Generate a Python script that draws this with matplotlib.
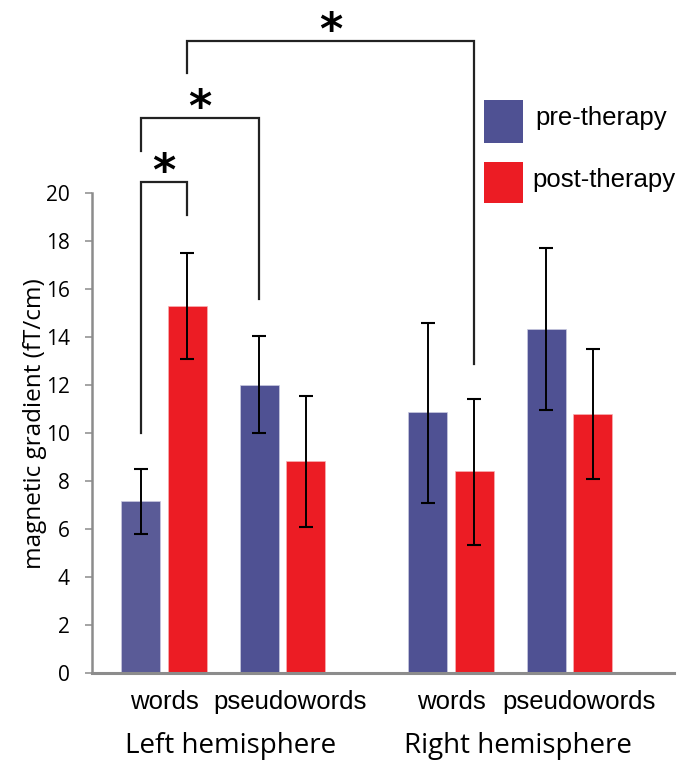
import matplotlib
matplotlib.use('Agg')
import matplotlib.pyplot as plt
from matplotlib.patches import Rectangle
import numpy as np

# values
hemispheres = ['Left hemisphere', 'Right hemisphere']
categories = ['words', 'pseudowords', 'words', 'pseudowords']
series = ['pre-therapy', 'post-therapy']

pre_means = [7.15, 12.0, 10.87, 14.33]
pre_low = [5.8, 10.0, 7.1, 10.96]
pre_high = [8.52, 14.05, 14.6, 17.7]

post_means = [15.3, 8.83, 8.4, 10.8]
post_low = [13.1, 6.1, 5.35, 8.08]
post_high = [17.5, 11.55, 11.4, 13.5]

# significance brackets: (left bar, right bar) as (series, category)
bracket_left = [(0, 0), (0, 0), (1, 0)]
bracket_right = [(1, 0), (0, 1), (1, 2)]
bracket_left_foot = [10.0, 21.75, 25.0]
bracket_right_foot = [19.08, 15.58, 12.875]
bracket_top = [20.46, 23.125, 26.33]

pre_color = '#4f5193'
first_color = '#5a5b97'
post_color = '#ec1c24'
axis_grey = '#8c8c8c'

fig = plt.figure(figsize=(6.81, 7.65), dpi=100)
ax = fig.add_axes([92 / 681, 92 / 765, 582 / 681, 480 / 765])

# group layout
centers = np.array([0.0, 3.04, 7.36, 10.40])
offset = 0.6
width = 1.0
x_pos = [centers - offset, centers + offset]

pre_colors = [first_color] + [pre_color] * 3
ax.bar(x_pos[0], pre_means, width, color=pre_colors, edgecolor='#c9cae0', linewidth=0.5)
ax.bar(x_pos[1], post_means, width, color=post_color, edgecolor='#f7b0b3', linewidth=0.5)

for xs, means, low, high in [(x_pos[0], pre_means, pre_low, pre_high),
                             (x_pos[1], post_means, post_low, post_high)]:
    m = np.array(means)
    err = [m - np.array(low), np.array(high) - m]
    ax.errorbar(xs, m, yerr=err, fmt='none', ecolor='black',
                elinewidth=1.4, capsize=4.8, capthick=1.5)

# significance brackets
for (ls, lc), (rs, rc), lf, rf, top in zip(bracket_left, bracket_right,
                                           bracket_left_foot, bracket_right_foot, bracket_top):
    x0 = x_pos[ls][lc]
    x1 = x_pos[rs][rc]
    ax.plot([x0, x0, x1, x1], [lf, top, top, rf], color='#222222', lw=1.6,
            clip_on=False, solid_joinstyle='miter')
    ax.text((x0 + x1) / 2, top - 0.5, '*', ha='center', va='bottom',
            fontsize=32, fontweight='bold', family='DejaVu Sans', clip_on=False)

ax.set_xlim(-1.846, 13.08)
ax.set_ylim(0, 20)
ax.set_yticks(np.arange(0, 21, 2))
ax.set_yticklabels([str(v) for v in range(0, 21, 2)], family='Open Sans', fontsize=15)
ax.tick_params(axis='y', length=5, width=1.1, color=axis_grey, pad=11)

label_shift = [0, 0.2, 0, 0.24]
ax.set_xticks(centers + np.array(label_shift))
ax.set_xticklabels(categories, family='Liberation Sans', fontsize=18.5)
ax.tick_params(axis='x', length=0, pad=12)

ax.set_ylabel('magnetic gradient (fT/cm)', family='Open Sans', fontsize=17.5)
ax.yaxis.set_label_coords(-0.077, 0.52)

for side in ['top', 'right']:
    ax.spines[side].set_visible(False)
ax.spines['left'].set_color(axis_grey)
ax.spines['left'].set_linewidth(1.8)
ax.spines['bottom'].set_color(axis_grey)
ax.spines['bottom'].set_linewidth(2.2)

# hemisphere labels
for i, name in enumerate(hemispheres):
    mid = (centers[2 * i] + centers[2 * i + 1]) / 2 + 0.2
    ax.text(mid, -0.1667, name, transform=ax.get_xaxis_transform(),
            ha='center', va='baseline', family='Open Sans', fontsize=20)

# legend drawn as boxes in figure pixels
leg_boxes = [(484, 100, 39, 43), (484, 162, 39, 41)]
leg_text_x = [535, 532]
for (bx, by, bw, bh), tx, name, col in zip(leg_boxes, leg_text_x, series, [pre_color, post_color]):
    fig.add_artist(Rectangle((bx / 681, 1 - (by + bh) / 765), bw / 681, bh / 765,
                             transform=fig.transFigure, color=col, lw=0))
    fig.text(tx / 681, 1 - (by + bh / 2 - 3) / 765, name, ha='left', va='center',
             family='Liberation Sans', fontsize=18.5)

fig.savefig('out.png', dpi=100)
